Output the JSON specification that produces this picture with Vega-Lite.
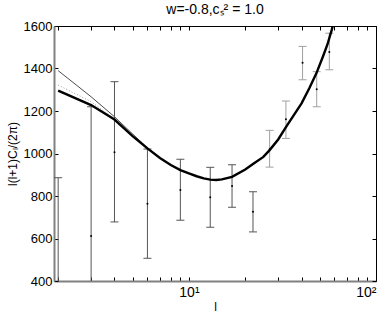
{
  "$schema": "https://vega.github.io/schema/vega-lite/v6.json",
  "width": 322,
  "height": 255,
  "autosize": {"type": "none"},
  "padding": {"left": 54, "top": 26, "right": 14, "bottom": 35},
  "config": {
    "view": {"stroke": null},
    "font": "Liberation Sans",
    "axis": {"labelFont": "Liberation Sans", "titleFont": "Liberation Sans", "labelColor": "black", "titleColor": "black", "grid": false, "labelFontSize": 13, "titleFontSize": 12, "titleFontWeight": "normal"}
  },
  "title": {"text": "w=-0.8,cₛ² = 1.0", "fontSize": 14, "fontWeight": "normal", "font": "Liberation Sans", "offset": 3, "color": "black"},
  "datasets": {
    "bars": [
      {"l": 2, "lo": 0, "mid": 350, "hi": 886, "grp": "a"},
      {"l": 3, "lo": 4, "mid": 612, "hi": 1220, "grp": "a"},
      {"l": 4, "lo": 678, "mid": 1006, "hi": 1338, "grp": "a"},
      {"l": 6, "lo": 507, "mid": 764, "hi": 1021, "grp": "a"},
      {"l": 9, "lo": 686, "mid": 828, "hi": 973, "grp": "a"},
      {"l": 13, "lo": 653, "mid": 794, "hi": 935, "grp": "a"},
      {"l": 17, "lo": 747, "mid": 847, "hi": 947, "grp": "a"},
      {"l": 22, "lo": 631, "mid": 726, "hi": 820, "grp": "a"},
      {"l": 27, "lo": 936, "mid": 1020, "hi": 1109, "grp": "b"},
      {"l": 33, "lo": 1071, "mid": 1161, "hi": 1247, "grp": "b"},
      {"l": 40.5, "lo": 1347, "mid": 1427, "hi": 1504, "grp": "b"},
      {"l": 48.2, "lo": 1220, "mid": 1302, "hi": 1385, "grp": "b"},
      {"l": 56.3, "lo": 1394, "mid": 1478, "hi": 1566, "grp": "b"}
    ],
    "thick": [
      {"l": 2, "v": 1296}, {"l": 3, "v": 1228}, {"l": 4, "v": 1160}, {"l": 5, "v": 1082},
      {"l": 6, "v": 1024}, {"l": 7, "v": 979}, {"l": 8, "v": 946}, {"l": 9, "v": 922},
      {"l": 10, "v": 906}, {"l": 11, "v": 893}, {"l": 12, "v": 883}, {"l": 13, "v": 877},
      {"l": 14, "v": 875}, {"l": 15, "v": 878}, {"l": 17, "v": 890}, {"l": 20, "v": 925},
      {"l": 22, "v": 951}, {"l": 25, "v": 984}, {"l": 27, "v": 1016}, {"l": 30, "v": 1066},
      {"l": 33, "v": 1124}, {"l": 36, "v": 1175}, {"l": 40, "v": 1236}, {"l": 44, "v": 1307},
      {"l": 48, "v": 1377}, {"l": 52, "v": 1455}, {"l": 55, "v": 1513}, {"l": 58, "v": 1582},
      {"l": 61, "v": 1660}
    ],
    "thin": [
      {"l": 2, "v": 1390}, {"l": 3, "v": 1267}, {"l": 4, "v": 1173}, {"l": 5, "v": 1092},
      {"l": 6, "v": 1027}, {"l": 7, "v": 980}
    ],
    "dotted": [
      {"l": 2, "v": 1322}, {"l": 3, "v": 1244}, {"l": 4, "v": 1162}
    ]
  },
  "layer": [
    {
      "data": {"name": "thin"},
      "mark": {"type": "line", "color": "black", "strokeWidth": 0.7, "clip": true},
      "encoding": {
        "x": {"field": "l", "type": "quantitative", "scale": {"type": "log", "domain": [1.9, 100], "nice": false, "padding": 0}, "axis": null},
        "y": {"field": "v", "type": "quantitative", "scale": {"domain": [400, 1600], "nice": false, "zero": false, "padding": 0}, "axis": null}
      }
    },
    {
      "data": {"name": "dotted"},
      "mark": {"type": "line", "color": "#999999", "strokeWidth": 1, "strokeDash": [1, 2], "clip": true},
      "encoding": {
        "x": {"field": "l", "type": "quantitative", "axis": null},
        "y": {"field": "v", "type": "quantitative", "axis": null}
      }
    },
    {
      "data": {"name": "bars"},
      "mark": {"type": "rule", "strokeWidth": 1, "clip": true},
      "encoding": {
        "x": {"field": "l", "type": "quantitative", "axis": null},
        "y": {"field": "lo", "type": "quantitative", "axis": null},
        "y2": {"field": "hi"},
        "color": {"field": "grp", "type": "nominal", "scale": {"domain": ["a", "b"], "range": ["#555555", "#a0a0a0"]}, "legend": null}
      }
    },
    {
      "data": {"name": "bars"},
      "mark": {"type": "tick", "orient": "horizontal", "size": 8, "thickness": 1, "clip": true, "opacity": 1},
      "encoding": {
        "x": {"field": "l", "type": "quantitative", "axis": null},
        "y": {"field": "lo", "type": "quantitative", "axis": null},
        "color": {"field": "grp", "type": "nominal", "legend": null}
      }
    },
    {
      "data": {"name": "bars"},
      "mark": {"type": "tick", "orient": "horizontal", "size": 8, "thickness": 1, "clip": true, "opacity": 1},
      "encoding": {
        "x": {"field": "l", "type": "quantitative", "axis": null},
        "y": {"field": "hi", "type": "quantitative", "axis": null},
        "color": {"field": "grp", "type": "nominal", "legend": null}
      }
    },
    {
      "data": {"name": "bars"},
      "mark": {"type": "point", "filled": true, "size": 4, "color": "black", "opacity": 1, "clip": true},
      "encoding": {
        "x": {"field": "l", "type": "quantitative", "axis": null},
        "y": {"field": "mid", "type": "quantitative", "axis": null}
      }
    },
    {
      "data": {"name": "thick"},
      "mark": {"type": "line", "color": "black", "strokeWidth": 2.4, "clip": true},
      "encoding": {
        "x": {"field": "l", "type": "quantitative", "title": "l",
          "axis": {"orient": "bottom", "values": [2,3,4,5,6,7,8,9,10,20,30,40,50,60,70,80,90,100],
            "labelExpr": "datum.value == 10 ? '10¹' : datum.value == 100 ? '10²' : ''",
            "tickSize": -4, "tickColor": "black", "domainColor": "#808080", "domainWidth": 2, "labelPadding": 8, "labelFontSize": 14, "titlePadding": 2, "labelOverlap": false}},
        "y": {"field": "v", "type": "quantitative", "title": "l(l+1)Cₗ/(2π)",
          "axis": {"orient": "left", "values": [400,600,800,1000,1200,1400,1600], "format": "d", "tickSize": -4, "tickColor": "black", "domainColor": "#808080", "domainWidth": 2, "labelPadding": 6, "titlePadding": 4}}
      }
    },
    {
      "data": {"name": "thick"},
      "mark": {"type": "line", "strokeOpacity": 0, "clip": true},
      "encoding": {
        "x": {"field": "l", "type": "quantitative",
          "axis": {"orient": "top", "values": [2,3,4,5,6,7,8,9,10,20,30,40,50,60,70,80,90,100], "labels": false, "title": null, "tickSize": -4, "tickColor": "black", "domainColor": "black", "domainWidth": 1}},
        "y": {"field": "v", "type": "quantitative",
          "axis": {"orient": "right", "values": [400,600,800,1000,1200,1400,1600], "labels": false, "title": null, "tickSize": -4, "tickColor": "black", "domainColor": "black", "domainWidth": 1}}
      }
    }
  ],
  "resolve": {"axis": {"x": "independent", "y": "independent"}}
}
